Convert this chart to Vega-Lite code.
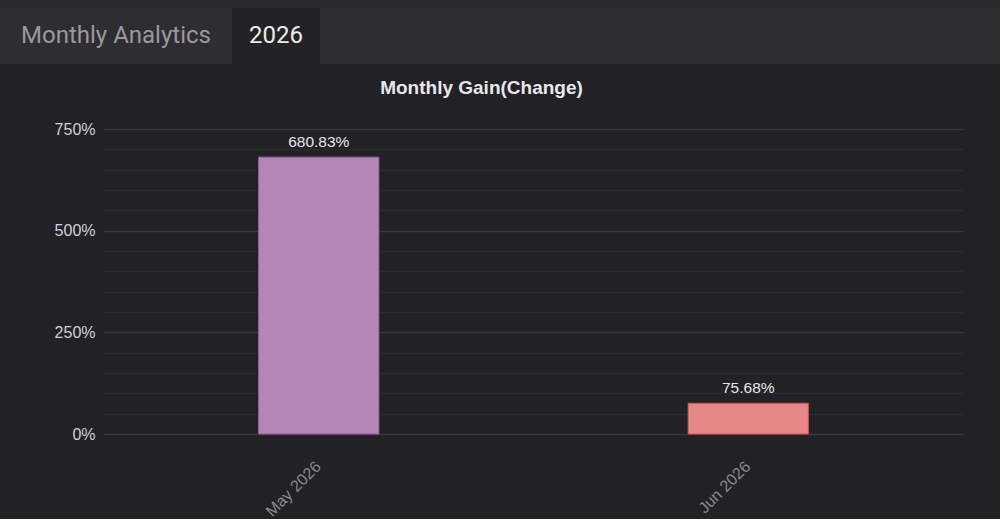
{
  "$schema": "https://vega.github.io/schema/vega-lite/v6.json",
  "background": "#222126",
  "padding": 0,
  "spacing": 15,
  "config": {
    "view": {"stroke": null},
    "font": "Liberation Sans"
  },
  "datasets": {
    "gain": [
      {"month": "May 2026", "gain": 680.83},
      {"month": "Jun 2026", "gain": 75.68}
    ]
  },
  "vconcat": [
    {
      "spacing": 0,
      "vconcat": [
        {
          "width": 1000, "height": 8,
          "view": {"fill": "#2a292e"},
          "data": {"values": [{"tab": ""}]},
          "mark": {"type": "text", "fontSize": 1},
          "encoding": {"text": {"field": "tab"}}
        },
        {
          "spacing": 0,
          "hconcat": [
            {
              "width": 232, "height": 56,
              "view": {"fill": "#2e2d32"},
              "data": {"values": [{"tab": "Monthly Analytics"}]},
              "mark": {"type": "text", "font": "Roboto", "fontSize": 24, "color": "#9a999e"},
              "encoding": {"text": {"field": "tab"}}
            },
            {
              "width": 88, "height": 56,
              "view": {"fill": "#232227"},
              "data": {"values": [{"tab": "2026"}]},
              "mark": {"type": "text", "font": "Roboto", "fontSize": 24, "color": "#ececec"},
              "encoding": {"text": {"field": "tab"}}
            },
            {
              "width": 680, "height": 56,
              "view": {"fill": "#2e2d32"},
              "data": {"values": [{"tab": ""}]},
              "mark": {"type": "text", "fontSize": 1},
              "encoding": {"text": {"field": "tab"}}
            }
          ]
        }
      ]
    },
    {
      "width": 963,
      "height": 305,
      "title": {
        "text": "Monthly Gain(Change)",
        "fontSize": 19,
        "fontWeight": "bold",
        "color": "#e8e8ec",
        "anchor": "middle",
        "offset": 23
      },
      "data": {"name": "gain"},
      "encoding": {
        "x": {
          "field": "month",
          "type": "nominal",
          "sort": null,
          "title": null,
          "scale": {"range": [104, 963], "paddingInner": 0.72, "paddingOuter": 0.36},
          "axis": {
            "labelAngle": -45,
            "labelColor": "#8c8b90",
            "labelFontSize": 16,
            "labelPadding": 24,
            "labelOffset": -6,
            "ticks": false,
            "domain": false,
            "grid": false
          }
        },
        "y": {
          "field": "gain",
          "type": "quantitative",
          "title": null,
          "scale": {"domain": [0, 750], "nice": false},
          "axis": {
            "values": [0, 50, 100, 150, 200, 250, 300, 350, 400, 450, 500, 550, 600, 650, 700, 750],
            "labelExpr": "datum.value % 250 === 0 ? datum.value + '%' : ''",
            "labelColor": "#d2d1d6",
            "labelFontSize": 16,
            "labelPadding": -95,
            "ticks": false,
            "domain": false,
            "grid": true,
            "gridColor": {
              "condition": {"test": "datum.value % 250 === 0", "value": "#3a393f"},
              "value": "#2c2b31"
            },
            "gridWidth": 1.5
          }
        }
      },
      "layer": [
        {
          "mark": {"type": "bar", "strokeWidth": 1},
          "encoding": {
            "color": {
              "field": "month",
              "type": "nominal",
              "sort": null,
              "scale": {"domain": ["May 2026", "Jun 2026"], "range": ["#b587b9", "#e48987"]},
              "legend": null
            },
            "stroke": {
              "field": "month",
              "type": "nominal",
              "sort": null,
              "scale": {"domain": ["May 2026", "Jun 2026"], "range": ["#9a5fa0", "#d0504f"]},
              "legend": null
            }
          }
        },
        {
          "mark": {
            "type": "text",
            "baseline": "alphabetic",
            "dy": -10,
            "fontSize": 15.5,
            "color": "#e6e6ea",
            "text": {"expr": "format(datum.gain, '.2f') + '%'"}
          }
        }
      ]
    }
  ]
}
